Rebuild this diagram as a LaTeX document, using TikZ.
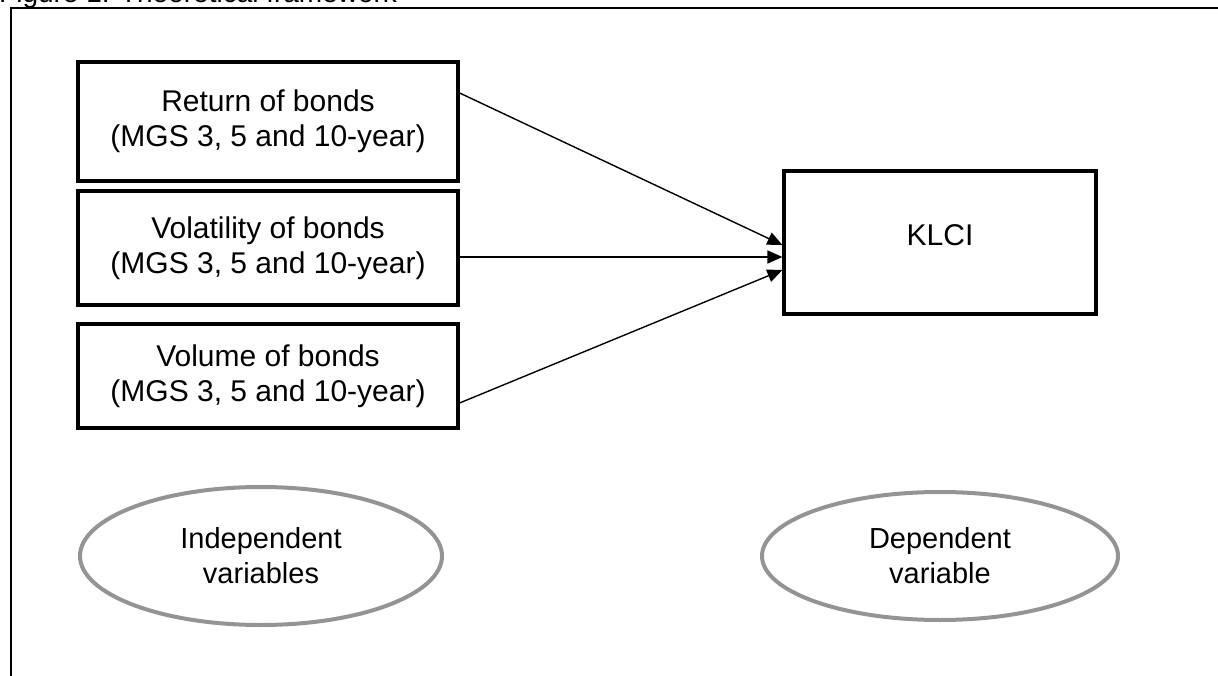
\documentclass[tikz,border=0pt]{standalone}
\usepackage{fontspec}
\setmainfont{Liberation Sans}
\usetikzlibrary{arrows.meta,shapes.geometric}
\begin{document}
\begin{tikzpicture}[x=1pt,y=-1pt,
  varbox/.style={draw,line width=3.2pt,rectangle,minimum width=380pt,inner sep=0pt,
    align=center,font=\fontsize{30}{35}\selectfont},
  oval/.style={draw=black!42,line width=4pt,ellipse,inner sep=0pt,
    align=center,font=\fontsize{29}{35}\selectfont},
  arr/.style={line width=1.4pt,-{Triangle[length=15pt,width=13pt]}}]
\useasboundingbox (0,0) rectangle (1218,676);
\fill[white] (0,0) rectangle (1218,676);
% title (cut off at top, as in the reference)
\node[anchor=base west,inner sep=0pt,font=\fontsize{28}{32}\selectfont] (title) at (-1,3) {Figure 1: Theoretical framework};
% frame
\draw[line width=2.4pt] (11,690) -- (11,8) -- (1230,8);
% boxes
\node[varbox,minimum height=119pt] (ret) at (268,121.5) {Return of bonds\\(MGS 3, 5 and 10-year)};
\node[varbox,minimum height=114pt] (vol) at (268,248) {Volatility of bonds\\(MGS 3, 5 and 10-year)};
\node[varbox,minimum height=104pt] (vmb) at (268,376) {Volume of bonds\\(MGS 3, 5 and 10-year)};
\node[varbox,minimum width=312pt,minimum height=143pt,text depth=14pt] (klci) at (940,242.5) {KLCI};
% arrows
\draw[arr] ([yshift=28.5pt]ret.east) -- ([yshift=-2.5pt]klci.west);
\draw[arr] ([yshift=-9pt]vol.east) -- ([yshift=-14.5pt]klci.west);
\draw[arr] ([yshift=-27pt]vmb.east) -- ([yshift=-27.5pt]klci.west);
% ellipses
\node[oval,minimum width=362pt,minimum height=138pt] (indep) at (261,556) {Independent\\variables};
\node[oval,minimum width=356pt,minimum height=128pt] (dep) at (940,556) {Dependent\\variable};
\end{tikzpicture}
\end{document}
